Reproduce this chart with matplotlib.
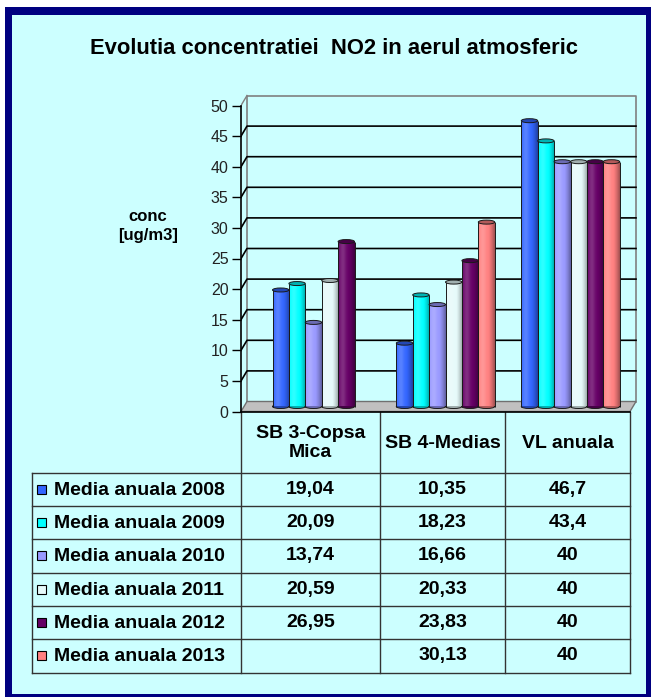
import numpy as np
import matplotlib
matplotlib.use('Agg')
import matplotlib.pyplot as plt
from matplotlib.patches import Rectangle, Ellipse, Polygon
from matplotlib.colors import to_rgb

plt.rcParams['font.family'] = ['Liberation Sans', 'DejaVu Sans']

# ---- data ----
title = 'Evolutia concentratiei  NO2 in aerul atmosferic'
ylabel = 'conc\n[ug/m3]'
stations = ['SB 3-Copsa\nMica', 'SB 4-Medias', 'VL anuala']
series_names = ['Media anuala 2008', 'Media anuala 2009', 'Media anuala 2010',
                'Media anuala 2011', 'Media anuala 2012', 'Media anuala 2013']
v2008 = [19.04, 10.35, 46.7]
v2009 = [20.09, 18.23, 43.4]
v2010 = [13.74, 16.66, 40]
v2011 = [20.59, 20.33, 40]
v2012 = [26.95, 23.83, 40]
v2013 = [None, 30.13, 40]
series_vals = [v2008, v2009, v2010, v2011, v2012, v2013]
colors = ['#3366FF', '#00FFFF', '#9999FF', '#E6FAFA', '#660066', '#FF8080']
yticks = list(range(0, 51, 5))

# ---- layout (pixels) ----
W, H = 651, 697
col_px = [241, 380, 505, 630]          # category / table column edges
row_px = [472.7, 506, 539.3, 572.6, 605.9, 639.2, 672.5]
table_left = 31.7
y0_px = 411.5                           # value 0 on the front of the floor
px_cat = 125.0                          # pixels per x unit
px_val = 6.12                           # pixels per value unit
DX, DY = 6 / px_cat, 10 / px_val        # 3d depth
BW = 16.4 / px_cat                      # bar width
EH = 4.0 / px_val                       # ellipse height of cylinder caps
BASE = DY / 2
TXT = 14

def shade(c, f):
    c = np.array(to_rgb(c))
    if f >= 0:
        return c + (1 - c) * f
    return c * (1 + f)

def fmt(v):
    return f'{v:g}'.replace('.', ',')

fig = plt.figure(figsize=(W / 100, H / 100), dpi=100)
fig.patch.set_facecolor('white')

bg = fig.add_axes([0, 0, 1, 1])
bg.set_xlim(0, W)
bg.set_ylim(H, 0)
bg.axis('off')
bg.add_patch(Rectangle((5, 7), W, H, fc='#000080', ec='none'))
bg.add_patch(Rectangle((12, 15), 634, 679, fc='#CCFFFF', ec='none'))

bg.text(334, 48, title, fontsize=15.8, weight='bold', ha='center', va='center')
bg.text(148, 226, ylabel, fontsize=12, weight='bold', ha='center', va='center',
        linespacing=1.4)

# ---- chart ----
top_px = 88
ax = fig.add_axes([col_px[0] / W, (H - y0_px) / H,
                   (W - col_px[0]) / W, (y0_px - top_px) / H])
ax.patch.set_visible(False)
edges = [(p - col_px[0]) / px_cat for p in col_px]
XR = edges[-1]

# back wall and left wall
ax.plot([DX, DX, XR + DX, XR + DX], [DY, 50 + DY, 50 + DY, DY], color='#808080', lw=1.2, zorder=1)
ax.plot([0, DX], [50, 50 + DY], color='#808080', lw=1.0, zorder=1)
for v in yticks[1:-1]:
    ax.plot([0, DX, XR + DX], [v, v + DY, v + DY], color='black', lw=1.2, zorder=1)

# floor
ax.add_patch(Polygon([(0, 0), (XR, 0), (XR + DX, DY), (DX, DY)], closed=True,
                     fc='#C0C0C0', ec='#707070', lw=1.0, zorder=2, clip_on=False))
ax.plot([0, XR], [0, 0], color='black', lw=1.2, zorder=2.5, clip_on=False)

t = np.linspace(0, 1, 64)
profile = 0.18 * np.exp(-((t - 0.28) / 0.2) ** 2) - 0.38 * np.clip((t - 0.6) / 0.4, 0, 1) ** 1.4

def cylinder(rect, c):
    x0, y0 = rect.get_x(), rect.get_y()
    w, h = rect.get_width(), rect.get_height()
    img = np.array([[shade(c, f) for f in profile]])
    im = ax.imshow(img, extent=(x0, x0 + w, y0, y0 + h), aspect='auto',
                   interpolation='bilinear', zorder=4)
    im.set_clip_path(rect)
    ax.add_patch(Ellipse((x0 + w / 2, y0), w, EH, fc=shade(c, -0.3), ec='#1a1a1a',
                         lw=0.7, zorder=3.5))
    ax.vlines([x0, x0 + w], y0, y0 + h, color='#1a1a1a', lw=0.7, zorder=4.5)
    ax.add_patch(Ellipse((x0 + w / 2, y0 + h), w, EH, fc=shade(c, -0.3), ec='#1a1a1a',
                         lw=0.7, zorder=5))

for j, (vals, c) in enumerate(zip(series_vals, colors)):
    xs, hs = [], []
    for i, v in enumerate(vals):
        if v is None:
            continue
        present = [s for s in range(len(series_vals)) if series_vals[s][i] is not None]
        k = present.index(j)
        center = (edges[i] + edges[i + 1]) / 2 + DX / 2
        xs.append(center + (k - (len(present) - 1) / 2) * BW)
        hs.append(v)
    bars = ax.bar(xs, hs, width=BW, bottom=BASE, color='none', edgecolor='none', zorder=4)
    for rect in bars:
        cylinder(rect, c)

ax.set_xlim(0, (W - col_px[0]) / px_cat)
ax.set_ylim(0, (y0_px - top_px) / px_val)
ax.set_xticks([])
ax.set_yticks(yticks)
for s in ['top', 'right', 'bottom']:
    ax.spines[s].set_visible(False)
ax.spines['left'].set_bounds(0, 50)
ax.spines['left'].set_linewidth(1.2)
ax.tick_params(axis='y', length=6.5, width=1.0, pad=2.5, labelsize=11.5, colors='black')
for lab in ax.get_yticklabels():
    lab.set_color('#222222')

# ---- data table ----
lc, lw = '#333333', 1.0
for x in col_px:
    bg.plot([x, x], [y0_px, row_px[-1]], color=lc, lw=lw)
bg.plot([table_left, table_left], [row_px[0], row_px[-1]], color=lc, lw=lw)
for y in row_px:
    bg.plot([table_left, col_px[-1]], [y, y], color=lc, lw=lw)

for i, name in enumerate(stations):
    bg.text((col_px[i] + col_px[i + 1]) / 2, (y0_px + row_px[0]) / 2 + 1, name,
            fontsize=TXT, weight='bold', ha='center', va='center', linespacing=1.2)

for j, (name, vals, c) in enumerate(zip(series_names, series_vals, colors)):
    yc = (row_px[j] + row_px[j + 1]) / 2
    bg.add_patch(Rectangle((37, yc - 4.5), 9, 9, fc=c, ec='black', lw=0.8))
    bg.text(54, yc + 1, name, fontsize=TXT, weight='bold', ha='left', va='center')
    for i, v in enumerate(vals):
        if v is None:
            continue
        bg.text((col_px[i] + col_px[i + 1]) / 2, yc, fmt(v),
                fontsize=TXT, weight='bold', ha='center', va='center')

fig.savefig('out.png', dpi=100)
